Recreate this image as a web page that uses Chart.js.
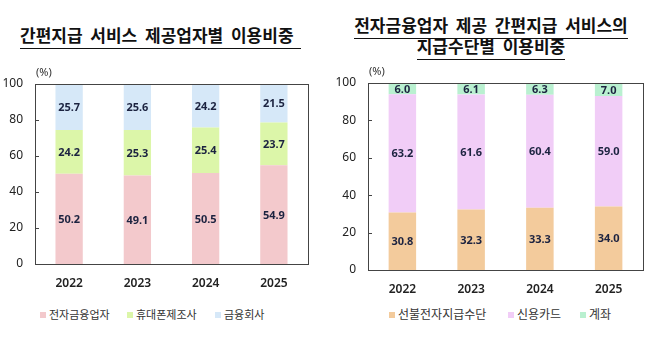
<!DOCTYPE html>
<html lang="ko">
<head>
<meta charset="utf-8">
<script src="https://cdn.jsdelivr.net/npm/chart.js@4.4.1/dist/chart.umd.min.js"></script>
<style>
    body { margin: 0; background: #fff; width: 658px; height: 339px; position: relative; overflow: hidden;
           font-family: "Noto Sans CJK KR", "Noto Sans", sans-serif; }
    .title { position: absolute; font-weight: bold; font-size: 17px; color: #111; white-space: nowrap;
             line-height: 18px; word-spacing: 3px; }
    .title span { border-bottom: 1.5px solid #111; padding-bottom: 1px; }
    .box { position: absolute; }
    .legend { position: absolute; top: 306px; color: #333; white-space: nowrap; }
    .legend .item { position: absolute; top: 0; line-height: 16px; }
    .legend .sq { display: inline-block; width: 6px; height: 6px; margin-right: 3px; vertical-align: 1px; }
</style>
</head>
<body>
<div class="title" style="left:20px; top:26px;"><span>간편지급 서비스 제공업자별 이용비중&nbsp;</span></div>
<div class="title" style="left:291px; width:400px; text-align:center; top:16px;"><span>전자금융업자 제공 간편지급 서비스의</span></div>
<div class="title" style="left:291px; width:400px; text-align:center; top:37px;"><span>지급수단별 이용비중</span></div>

<div class="box" style="left:0; top:60px; width:330px; height:240px;"><canvas id="leftChart"></canvas></div>
<div class="box" style="left:330px; top:60px; width:328px; height:240px;"><canvas id="rightChart"></canvas></div>

<div class="legend" id="leftLegend" style="left:0; font-size:11px;"></div>
<div class="legend" id="rightLegend" style="left:330px; font-size:12px;"></div>

<script>
// Data
const years = ['2022', '2023', '2024', '2025'];
const yTicks = [0, 20, 40, 60, 80, 100];

// 간편지급 서비스 제공업자별 이용비중
const providerNames = ['전자금융업자', '휴대폰제조사', '금융회사'];
const fintechShare = [50.2, 49.1, 50.5, 54.9];
const phoneMakerShare = [24.2, 25.3, 25.4, 23.7];
const financialCoShare = [25.7, 25.6, 24.2, 21.5];
const providerColors = ['#f3c9cc', '#dcf6a9', '#d6e8f8'];

// 지급수단별 이용비중
const methodNames = ['선불전자지급수단', '신용카드', '계좌'];
const prepaidShare = [30.8, 32.3, 33.3, 34.0];
const creditCardShare = [63.2, 61.6, 60.4, 59.0];
const accountShare = [6.0, 6.1, 6.3, 7.0];
const methodColors = ['#f3cb9c', '#f1cdf7', '#b9f0d0'];

// box around plot area, inner tick marks, (%) unit, value labels
const framePlugin = {
    id: 'frame',
    afterDatasetsDraw(chart) {
        const { ctx, chartArea: a, scales } = chart;
        ctx.save();
        // values in the middle of each segment
        ctx.font = 'bold 11px "Noto Sans", sans-serif';
        ctx.fillStyle = '#1c2340';
        ctx.textAlign = 'center';
        ctx.textBaseline = 'middle';
        chart.data.datasets.forEach((ds, i) => {
            chart.getDatasetMeta(i).data.forEach((bar, j) => {
                ctx.fillText(ds.data[j].toFixed(1), bar.x, (bar.y + bar.base) / 2 + 1);
            });
        });
        // frame
        ctx.strokeStyle = '#444';
        ctx.lineWidth = 1;
        ctx.strokeRect(Math.round(a.left) + 0.5, Math.round(a.top) + 0.5,
                       Math.round(a.width), Math.round(a.height));
        scales.y.ticks.forEach(t => {
            const y = Math.round(scales.y.getPixelForValue(t.value)) + 0.5;
            ctx.beginPath();
            ctx.moveTo(a.left, y);
            ctx.lineTo(a.left + 4, y);
            ctx.stroke();
        });
        // unit
        ctx.font = '11px "Noto Sans", sans-serif';
        ctx.fillStyle = '#333';
        ctx.textAlign = 'left';
        ctx.fillText('(%)', a.left + 1, a.top - 11);
        ctx.restore();
    }
};

function makeChart(id, names, series, colors, pad, xHeight) {
    return new Chart(document.getElementById(id), {
        type: 'bar',
        data: {
            labels: years,
            datasets: series.map((s, i) => ({
                label: names[i],
                data: s,
                backgroundColor: colors[i],
                borderWidth: 0,
                categoryPercentage: 1,
                barPercentage: 0.4
            }))
        },
        options: {
            responsive: true,
            maintainAspectRatio: false,
            animation: false,
            layout: { padding: pad },
            plugins: {
                legend: { display: false },
                tooltip: { enabled: false }
            },
            scales: {
                x: {
                    stacked: true,
                    grid: { display: false, drawTicks: false },
                    border: { display: false },
                    ticks: { color: '#222', padding: 12, font: { size: 12, weight: '600', family: '"Noto Sans", sans-serif' } },
                    afterFit(scale) { scale.height = xHeight; }
                },
                y: {
                    stacked: true,
                    min: 0,
                    max: 100,
                    grid: { display: false, drawTicks: false },
                    border: { display: false },
                    afterBuildTicks(scale) { scale.ticks = yTicks.map(v => ({ value: v })); },
                    ticks: { color: '#222', padding: 12, font: { size: 12, family: '"Noto Sans", sans-serif' } },
                    afterFit(scale) { scale.width = 35; }
                }
            }
        },
        plugins: [framePlugin]
    });
}

makeChart('leftChart', providerNames, [fintechShare, phoneMakerShare, financialCoShare], providerColors,
    { left: 0, right: 22, top: 24, bottom: 0 }, 36);
makeChart('rightChart', methodNames, [prepaidShare, creditCardShare, accountShare], methodColors,
    { left: 3, right: 15, top: 23, bottom: 0 }, 30);

function buildLegend(id, names, colors, xs) {
    const el = document.getElementById(id);
    names.forEach((n, i) => {
        const item = document.createElement('div');
        item.className = 'item';
        item.style.left = xs[i] + 'px';
        item.innerHTML = '<span class="sq" style="background:' + colors[i] + '"></span>' + n;
        el.appendChild(item);
    });
}
buildLegend('leftLegend', providerNames, providerColors, [40, 127, 215]);
buildLegend('rightLegend', methodNames, methodColors, [59, 178, 250]);
</script>
</body>
</html>
